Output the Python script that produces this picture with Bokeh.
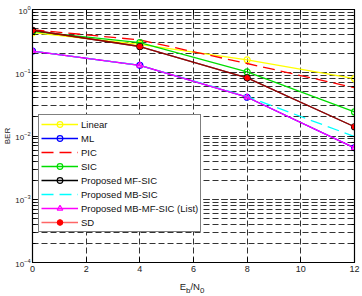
from bokeh.plotting import figure
from bokeh.layouts import column
from bokeh.models import (Legend, LegendItem, LogAxis, LinearAxis, Div,
                          FixedTicker, Range1d, CustomLabelingPolicy)
from bokeh.embed import file_html
from bokeh.resources import INLINE

# Eb/N0 in dB
ebn0 = [0, 4, 8, 12]

ber_linear = [0.43, 0.28, 0.16, 0.081]
ber_ml = [0.22, 0.131, 0.041, 0.0065]
ber_pic = [0.48, 0.33, 0.14, 0.058]
ber_sic = [0.45, 0.30, 0.103, 0.024]
ber_mf_sic = [0.47, 0.26, 0.083, 0.014]
ber_mb_sic = [0.22, 0.131, 0.042, 0.0098]
ber_mb_mf_sic = [0.22, 0.131, 0.041, 0.0065]
ber_sd = [0.47, 0.26, 0.083, 0.014]

x_ticks = [0, 2, 4, 6, 8, 10, 12]
FONT = "Liberation Sans"
GRID = "#333333"

p = figure(width=362, height=282, y_axis_type="log",
           x_range=Range1d(0, 12), y_range=Range1d(1e-4, 1),
           output_backend="svg", toolbar_location=None,
           min_border_left=30, min_border_right=8,
           min_border_top=9, min_border_bottom=20)
p.background_fill_color = "white"
p.border_fill_color = "white"
p.outline_line_color = "black"
p.outline_line_width = 1.2

# grid: dashed on every major and minor tick
p.xgrid.ticker = FixedTicker(ticks=x_ticks[1:-1])
p.xgrid.grid_line_color = GRID
p.xgrid.grid_line_dash = "6 3"
p.ygrid.grid_line_color = GRID
p.ygrid.grid_line_dash = "6 3"
p.ygrid.minor_grid_line_color = GRID
p.ygrid.minor_grid_line_dash = "6 3"

for ax in (p.xaxis[0], p.yaxis[0]):
    ax.major_tick_in = 5
    ax.major_tick_out = 0
    ax.minor_tick_in = 3
    ax.minor_tick_out = 0
    ax.axis_line_color = "black"
    ax.major_label_text_font = FONT
    ax.major_label_text_font_size = "9px"
    ax.major_label_text_color = "#222222"
    ax.major_label_standoff = 3
p.xaxis[0].ticker = FixedTicker(ticks=x_ticks)
p.xaxis[0].minor_tick_in = 0
p.yaxis[0].major_label_text_font_size = "8px"
p.yaxis[0].major_label_standoff = 2
p.yaxis[0].axis_label = "BER"
p.yaxis[0].axis_label_text_font = FONT
p.yaxis[0].axis_label_text_font_size = "8px"
p.yaxis[0].axis_label_text_font_style = "normal"
p.yaxis[0].axis_label_text_color = "#222222"
p.yaxis[0].axis_label_standoff = 0

# tick marks (no labels) on the right and top sides of the box
no_labels = CustomLabelingPolicy(code="return new Set()")
right = LogAxis(major_label_policy=no_labels, major_label_text_font_size="1px",
                major_label_standoff=0, major_tick_in=5, major_tick_out=0,
                minor_tick_in=3, minor_tick_out=0, axis_line_color="black")
top = LinearAxis(ticker=FixedTicker(ticks=x_ticks), major_label_policy=no_labels,
                 major_label_text_font_size="1px", major_label_standoff=0,
                 major_tick_in=5, major_tick_out=0, minor_tick_in=0, minor_tick_out=0,
                 axis_line_color="black")
p.add_layout(right, "right")
p.add_layout(top, "above")

# curves
series = [
    ("Linear", ber_linear, "#ffff00", "solid", "circle"),
    ("ML", ber_ml, "#0000ff", "solid", "circle"),
    ("PIC", ber_pic, "#ff0000", "12 6", None),
    ("SIC", ber_sic, "#00dd00", "solid", "circle"),
    ("Proposed MF-SIC", ber_mf_sic, "#000000", "solid", "circle"),
    ("Proposed MB-SIC", ber_mb_sic, "#00ffff", "12 6", None),
    ("Proposed MB-MF-SIC (List)", ber_mb_mf_sic, "#ff00ff", "solid", "triangle"),
    ("SD", ber_sd, "#ff0000", "solid", "star"),
]

items = []
for name, ys, color, dash, marker in series:
    alpha = 0.6 if name == "SD" else 1.0
    rs = [p.line(ebn0, ys, line_color=color, line_width=1.3, line_dash=dash,
                 line_alpha=alpha)]
    if marker == "star":
        rs.append(p.scatter(ebn0, ys, marker="asterisk", size=6, line_color=color,
                            line_width=1.5))
        rs.append(p.scatter(ebn0, ys, marker="circle", size=4, fill_color=color,
                            line_color=color, fill_alpha=0.8))
    elif marker is not None:
        rs.append(p.scatter(ebn0, ys, marker=marker, size=6, line_color=color,
                            fill_color=None, line_width=1.2))
    items.append(LegendItem(label=name, renderers=rs))

legend = Legend(items=items, location=(6, 30), orientation="vertical",
                label_text_font=FONT, label_text_font_size="9.5px",
                label_text_color="#111111",
                glyph_width=37, glyph_height=14, label_height=14,
                spacing=0, padding=2, margin=0, label_standoff=3,
                border_line_color="black", border_line_width=1.2,
                background_fill_color="white", background_fill_alpha=1.0)
p.add_layout(legend, "center")

# x-axis title with subscripts, centred under the plot frame
xtitle = Div(text="E<sub>b</sub>/N<sub>0</sub>", width=362, height=14, margin=0,
             styles={"font-family": FONT, "font-size": "9.5px", "color": "#222222",
                     "text-align": "center", "padding-left": "22px",
                     "line-height": "10px", "background": "white"})

layout = column(p, xtitle, spacing=0)
open("out.html", "w").write(file_html(layout, INLINE))
